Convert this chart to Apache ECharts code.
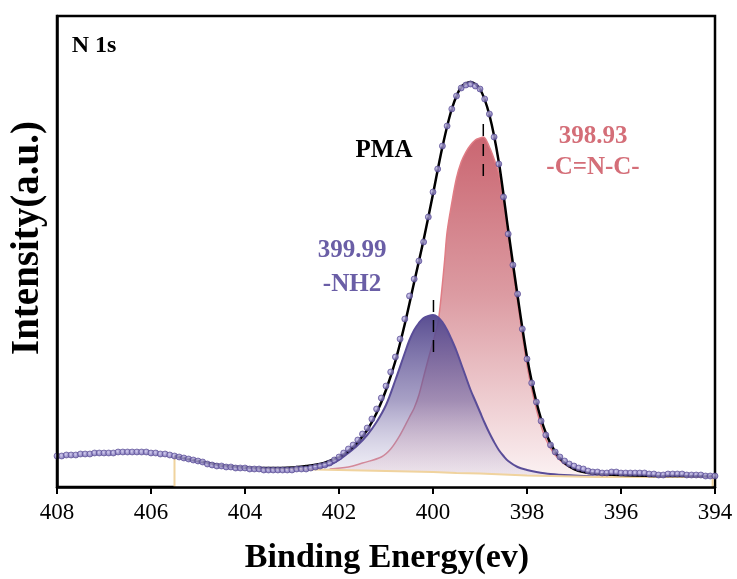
<!DOCTYPE html>
<html>
<head>
<meta charset="utf-8">
<script src="https://cdn.jsdelivr.net/npm/echarts@6/dist/echarts.min.js"></script>
<style>
html,body{margin:0;padding:0;background:#fff;}
#chart{width:737px;height:579px;}
</style>
</head>
<body>
<div id="chart"></div>
<script>
// ---------- DATA ----------
// Measured N 1s spectrum, binding energy 408.0 -> 394.0 eV, 0.1 eV step
const scanStart = 408.0;
const scanStep = 0.1;
const measuredIntensity = [
  31,31,32,32,32,33,33,33,34,34,
  34,34,34,35,35,35,35,35,35,35,
  34,34,33,33,32,31,30,29,28,27,
  26,25,23,22,21,21,20,20,19,19,
  19,18,18,18,17,17,17,17,17,17,
  17,18,18,18,19,20,21,22,24,27,
  30,34,38,42,47,53,59,68,78,89,
  101,115,130,148,168,191,208,226,245,270,
  295,318,341,361,378,391,399,402,403,401,
  398,388,373,350,323,290,253,222,193,158,
  128,104,85,66,52,42,35,30,26,23,
  21,19,18,16,15,15,14,14,15,15,
  14,14,14,14,14,14,13,13,12,12,
  13,13,13,13,12,12,12,12,11,11,
  11
];

// Fitted envelope (PMA)
const envelopeEnergy = [405.5,405.0,404.5,404.0,403.5,403.0,402.7,402.4,402.2,402.0,401.8,401.6,401.4,401.2,401.0,400.8,400.6,400.4,400.2,400.0,399.8,399.6,399.4,399.2,399.0,398.8,398.6,398.4,398.2,398.0,397.8,397.6,397.4,397.2,397.0,396.8,396.5,396.0,395.0,394.05];
const envelopeIntensity = [31,26,21.5,19.5,19,19.5,21,23,26,30,36,45,57,74,97,126,163,205,247,293,340,378,400,405,398,372,325,257,191,130,85,54,35,24,18,15,13,12,11,11];

// Component 1: -NH2 at 399.99 eV
const nh2Energy = [403.5,403.0,402.5,402.2,402.0,401.8,401.6,401.4,401.2,401.0,400.8,400.6,400.5,400.4,400.3,400.2,400.1,400.0,399.9,399.8,399.7,399.6,399.5,399.4,399.3,399.2,399.1,399.0,398.9,398.8,398.7,398.6,398.5,398.4,398.2,398.0,397.8,397.5,397.0,396.5];
const nh2Intensity = [18,18,19,22,27,34,42,52,65,82,107,134,147,157,164,169,171,172,170,165,157,147,136,123,110,97,86,75,64,54,45,37,31,26,20,17,15,13,11.5,10.5];

// Component 2: -C=N-C- at 398.93 eV
const cncEnergy = [402.2,401.8,401.5,401.1,400.9,400.7,400.5,400.4,400.3,400.2,400.1,400.0,399.9,399.85,399.8,399.75,399.7,399.6,399.5,399.4,399.3,399.2,399.1,399.0,398.93,398.8,398.7,398.6,398.5,398.4,398.3,398.2,398.1,398.0,397.9,397.8,397.7,397.6,397.5,397.4,397.3,397.2,397.0,396.8,396.5,396.0,395.5,395.0];
const cncIntensity = [18,20,24,30,38,52,70,79,92,110,128,145,163,180,203,228,255,284,309,325,335,342,347,349,350,340,328,313,287,256,217,185,152,122,98,78,61,48,39,32,27,23,18,15,12.5,11,10,10];

// Background
const bgEnergy = [405.5,405.5,405.0,404.5,404.0,403.5,403.0,402.5,402.0,401.5,401.0,400.5,400.0,399.5,399.0,398.5,398.0,397.5,397.0,396.5,396.0,395.0,394.05,394.05];
const bgIntensity = [0,31,26,21,19,18,18,17.5,17,16.5,16,15.5,15,14,13.5,12.5,11.5,11,10.5,10,10,10,10,0];

// Peak position markers
const peakMarkers = [
  {energy: 398.93, from: 311, to: 365},
  {energy: 399.99, from: 135, to: 189}
];

const xTicks = {min: 394, max: 408, interval: 2};

// ---------- BUILD ----------
const pairs = (xs, ys) => xs.map((x, i) => [x, ys[i]]);
const measured = measuredIntensity.map((v, i) => [+(scanStart - i * scanStep).toFixed(2), v]);

const serif = '"Liberation Serif", "Times New Roman", serif';
const chart = echarts.init(document.getElementById('chart'), null, {renderer: 'canvas'});

const series = [
  {
    name: 'C=N-C', type: 'line', data: pairs(cncEnergy, cncIntensity), smooth: 0.35,
    symbol: 'none', lineStyle: {color: '#e07d85', width: 1.5},
    areaStyle: {opacity: 1, color: {type: 'linear', x: 0, y: 0, x2: 0, y2: 1, colorStops: [
      {offset: 0, color: '#ca6671'}, {offset: 0.45, color: '#dc9ba2'}, {offset: 1, color: '#fdf6f7'}]}},
    z: 2
  },
  {
    name: 'NH2', type: 'line', data: pairs(nh2Energy, nh2Intensity), smooth: 0.35,
    symbol: 'none', lineStyle: {color: '#5a4d98', width: 2},
    areaStyle: {opacity: 1, color: {type: 'linear', x: 0, y: 0, x2: 0, y2: 1, colorStops: [
      {offset: 0, color: 'rgba(84,72,142,0.97)'}, {offset: 0.5, color: 'rgba(110,98,160,0.6)'}, {offset: 1, color: 'rgba(200,196,225,0.15)'}]}},
    z: 3
  },
  {
    name: 'mask', type: 'line', data: pairs(bgEnergy, bgIntensity), symbol: 'none',
    lineStyle: {width: 0, opacity: 0}, areaStyle: {color: '#ffffff', opacity: 1}, z: 4, silent: true
  },
  {
    name: 'Background', type: 'line', data: pairs(bgEnergy, bgIntensity), symbol: 'none',
    lineStyle: {color: '#f0d39e', width: 2}, z: 5
  },
  {
    name: 'Envelope', type: 'line', data: pairs(envelopeEnergy, envelopeIntensity), smooth: 0.3,
    symbol: 'none', lineStyle: {color: '#000', width: 2.5}, z: 6
  }
];
peakMarkers.forEach(m => series.push({
  type: 'line', data: [[m.energy, m.from], [m.energy, m.to]], symbol: 'none',
  lineStyle: {color: '#000', width: 1.5, type: [12, 8]}, z: 7
}));
series.push({
  name: 'Measured', type: 'scatter', data: measured, symbol: 'circle', symbolSize: 6,
  itemStyle: {color: {type: 'radial', x: 0.4, y: 0.4, r: 0.6, colorStops: [
    {offset: 0, color: '#c9c2ec'}, {offset: 1, color: '#5f52a3'}]}, borderColor: '#54478f', borderWidth: 0.8},
  z: 8
});

chart.setOption({
  animation: false,
  backgroundColor: '#fff',
  grid: {left: 57, right: 22, top: 16, bottom: 92, show: true, borderColor: '#000', borderWidth: 2.5, containLabel: false},
  xAxis: {
    type: 'value', min: xTicks.min, max: xTicks.max, interval: xTicks.interval, inverse: true, z: 10,
    axisLine: {show: true, lineStyle: {color: '#000', width: 2.5}},
    axisTick: {show: true, inside: false, length: 7, lineStyle: {color: '#000', width: 2}},
    axisLabel: {color: '#000', fontSize: 23, fontFamily: serif, margin: 14},
    splitLine: {show: false}
  },
  yAxis: {
    type: 'value', min: 0, max: 471, z: 10,
    axisLine: {show: true, lineStyle: {color: '#000', width: 2.5}},
    axisTick: {show: false}, axisLabel: {show: false}, splitLine: {show: false}
  },
  series: series,
  graphic: [
    {type: 'text', x: 94, y: 46, style: {text: 'N 1s', fontSize: 24, fontWeight: 'bold', fontFamily: serif, fill: '#000', align: 'center', verticalAlign: 'middle'}},
    {type: 'text', x: 384, y: 151, style: {text: 'PMA', fontSize: 25, fontWeight: 'bold', fontFamily: serif, fill: '#000', align: 'center', verticalAlign: 'middle'}},
    {type: 'text', x: 352, y: 251, style: {text: '399.99', fontSize: 25, fontWeight: 'bold', fontFamily: serif, fill: '#6a5ea6', align: 'center', verticalAlign: 'middle'}},
    {type: 'text', x: 352, y: 285, style: {text: '-NH2', fontSize: 25, fontWeight: 'bold', fontFamily: serif, fill: '#6a5ea6', align: 'center', verticalAlign: 'middle'}},
    {type: 'text', x: 593, y: 137, style: {text: '398.93', fontSize: 25, fontWeight: 'bold', fontFamily: serif, fill: '#d46e78', align: 'center', verticalAlign: 'middle'}},
    {type: 'text', x: 593, y: 168, style: {text: '-C=N-C-', fontSize: 25, fontWeight: 'bold', fontFamily: serif, fill: '#d46e78', align: 'center', verticalAlign: 'middle'}},
    {type: 'text', x: 387, y: 558, style: {text: 'Binding Energy(ev)', fontSize: 34, fontWeight: 'bold', fontFamily: serif, fill: '#000', align: 'center', verticalAlign: 'middle'}},
    {type: 'text', x: 28, y: 238, rotation: Math.PI / 2, style: {text: 'Intensity(a.u.)', fontSize: 39, fontWeight: 'bold', fontFamily: serif, fill: '#000', align: 'center', verticalAlign: 'middle'}}
  ]
});
</script>
</body>
</html>
